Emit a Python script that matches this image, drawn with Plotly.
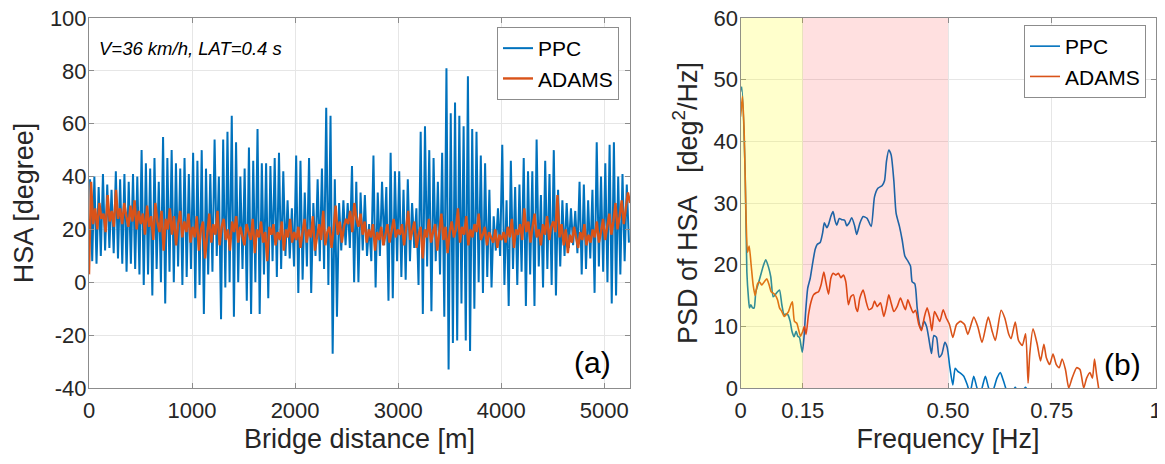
import numpy as np
import plotly.graph_objects as go

# ---------------- data: panel (a) ----------------
X_MAX = 5250  # bridge length shown [m]

# PPC hitch-steering angle: local maxima / minima of each oscillation (deg)
ppc_peaks = [
    39, 40, 36, 41, 37, 35, 42, 39, 41, 38, 41, 40,
    50, 45, 43, 47, 38, 55, 47, 50, 45, 43, 47, 41,
    49, 46, 50, 43, 41, 54, 40, 54, 57, 63, 53, 40,
    43, 51, 46, 58, 45, 45, 44, 47, 49, 42, 31, 28,
    48, 46, 34, 47, 30, 39, 43, 66, 63, 39, 30, 31,
    30, 44, 38, 34, 33, 22, 48, 34, 38, 36, 49, 42,
    42, 35, 39, 30, 28, 57, 59, 50, 47, 38, 49, 81,
    64, 68, 63, 59, 78, 58, 57, 48, 45, 35, 25, 28,
    52, 31, 46, 36, 37, 47, 42, 42, 54, 33, 46, 41,
    50, 35, 31, 30, 28, 27, 38, 37, 31, 35, 53, 40,
    45, 52, 53, 40, 41, 37,
]
ppc_troughs = [
    8, 7, 10, 12, 13, 11, 9, 7, 4, 7, 5, 3,
    -1, 3, -5, 5, 0, -8, 4, 0, 6, -1, 2, 5,
    -6, -1, -12, 3, 4, 10, -14, -2, 0, -13, 0, 5,
    -7, -12, 0, -12, 3, -6, 8, 2, 5, 10, 9, 6,
    -4, 1, 6, -4, 10, 8, 5, -1, -27, -13, 12, 14,
    13, 0, 0, 12, 10, 8, -2, 10, 14, -7, -6, 8,
    2, 1, 8, 13, -1, -12, 6, -11, 8, 3, -13, -33,
    -23, -22, -8, -22, -26, -10, 0, -4, 2, -2, 12, 10,
    -1, -9, 5, -1, 4, -9, 3, -9, 6, -2, 5, -1,
    -5, 6, 10, 13, 14, 11, 3, 5, 9, -4, 6, 4,
    0, -8, -5, 3, 8, 15,
]

# ADAMS hitch-steering angle samples (deg), evenly spaced along the bridge
adams = [
    3, 38, 22, 28, 20, 30, 24, 26, 19, 33, 23, 27, 21, 35, 24, 28, 22, 30, 25, 21, 29, 23, 31, 20, 27,
    22, 26, 18, 29, 21, 25, 16, 30, 23, 19, 27, 12, 24, 20, 28, 18, 25, 14, 22, 27, 17, 23, 19, 26, 15,
    21, 17, 25, 12, 20, 23, 9, 19, 26, 15, 22, 18, 27, 14, 21, 24, 16, 20, 12, 23, 19, 25, 15, 21, 18,
    14, 22, 19, 16, 24, 11, 20, 17, 23, 15, 19, 8, 21, 18, 22, 14, 19, 16, 23, 12, 20, 17, 24, 15, 19,
    16, 21, 13, 19, 24, 15, 20, 17, 25, 12, 18, 22, 16, 27, 14, 19, 21, 13, 20, 29, 18, 23, 15, 21, 24,
    22, 27, 19, 30, 24, 21, 26, 18, 23, 15, 20, 17, 22, 12, 19, 16, 21, 14, 18, 22, 15, 19, 24, 17, 20,
    18, 22, 14, 20, 27, 16, 19, 23, 13, 18, 21, 9, 20, 17, 24, 15, 19, 22, 12, 18, 26, 16, 21, 11, 19,
    23, 17, 20, 28, 15, 21, 18, 25, 14, 20, 17, 22, 19, 26, 16, 18, 21, 14, 19, 17, 15, 20, 13, 18, 16,
    19, 15, 21, 17, 24, 13, 20, 18, 22, 16, 28, 19, 23, 15, 21, 26, 17, 20, 14, 22, 18, 25, 16, 21, 23,
    19, 33, 17, 22, 14, 20, 11, 18, 15, 21, 17, 13, 19, 16, 22, 14, 18, 15, 20, 17, 23, 15, 19, 24, 16,
    21, 26, 18, 23, 30, 20, 25, 31, 22, 28, 34, 30,
]
dist_ticks = [0, 1000, 2000, 3000, 4000, 5000]
hsa_ticks = [-40, -20, 0, 20, 40, 60, 80, 100]

# ---------------- data: panel (b) ----------------
ppc_f = [0, 0.0032, 0.0112, 0.0153, 0.0193, 0.0217, 0.0249, 0.0289, 0.0329, 0.0369, 0.0418,
         0.0474, 0.0554, 0.061, 0.0675, 0.073, 0.0787, 0.0835, 0.0892, 0.094, 0.0996, 0.105,
         0.110, 0.114, 0.1197, 0.124, 0.129, 0.134, 0.138, 0.142, 0.146, 0.149, 0.153, 0.157,
         0.162, 0.168, 0.173, 0.180, 0.185, 0.192, 0.198, 0.202, 0.208, 0.212, 0.218, 0.223,
         0.228, 0.232, 0.238, 0.244, 0.251, 0.256, 0.262, 0.268, 0.275, 0.280, 0.2876, 0.2956,
         0.305, 0.3149, 0.3229, 0.331, 0.341, 0.347, 0.3518, 0.3574, 0.363, 0.3695, 0.375,
         0.383, 0.3896, 0.396, 0.4032, 0.4096, 0.4137, 0.4201, 0.4257, 0.4313, 0.4361, 0.4418,
         0.4482, 0.4546, 0.4602, 0.4659, 0.4723, 0.4787, 0.4851, 0.4924, 0.498, 0.5044, 0.5116,
         0.5173, 0.5237, 0.530, 0.538, 0.546, 0.553, 0.562, 0.570, 0.578, 0.590, 0.598, 0.606,
         0.618, 0.626, 0.634, 0.642, 0.652, 0.662, 0.672, 0.687, 0.695]
ppc_psd = [48.0, 48.8, 35, 18.8, 14.5, 13, 13.5, 13, 13, 15.6, 16.7,
           18, 19.9, 20.8, 19.6, 18, 14.8, 15.1, 15.6, 15.9, 13.5, 11.9,
           12, 11.9, 10.8, 9.2, 8.3, 9.2, 8.4, 8.2, 6.8, 5.8, 8.2, 12.4,
           16.2, 17.8, 19.9, 22.5, 23.3, 23.6, 25.2, 26.8, 26, 26.5, 27.9, 28.6,
           27.1, 26.4, 27.5, 27.3, 27.2, 26.3, 26.8, 27.6, 26.3, 24.9, 26.7, 27.8,
           27.5, 26.2, 31, 32.4, 32.8, 33.6, 36.8, 38.6, 37.8, 33.6, 28.3,
           26.2, 24, 21.4, 20.6, 19.8, 17.2, 16.9, 13, 10.3, 9.5, 10.8,
           10.0, 7.7, 5.6, 8.5, 8.2, 5, 5.5, 7.4, 6.6, 3.4, 0.5,
           3.2, 2.7, 2.4, 1.9, 0.6, -0.8, 1.9, 0, -0.8, 1.9, 0, -0.8,
           1.6, 2.5, 1.1, -0.5, -1, 0.1, -1, 0.1, -1]

adams_f = [0, 0.0016, 0.0048, 0.0088, 0.0128, 0.0169, 0.0209, 0.0257, 0.0305, 0.0353, 0.041,
           0.0458, 0.0514, 0.057, 0.0634, 0.069, 0.0739, 0.0787, 0.0835, 0.0892, 0.094, 0.0996,
           0.105, 0.110, 0.1157, 0.1213, 0.125, 0.130, 0.1357, 0.1398, 0.1446, 0.150, 0.154,
           0.158, 0.1638, 0.170, 0.176, 0.1815, 0.188, 0.194, 0.2008, 0.2056, 0.212, 0.2177,
           0.2233, 0.2297, 0.236, 0.2418, 0.248, 0.2538, 0.260, 0.2658, 0.2723, 0.278, 0.282,
           0.2876, 0.2956, 0.3028, 0.3092, 0.3173, 0.3229, 0.3293, 0.3373, 0.3454, 0.3518,
           0.3574, 0.363, 0.3695, 0.3775, 0.3855, 0.392, 0.3976, 0.4032, 0.4096, 0.416, 0.4217,
           0.4297, 0.4361, 0.4433, 0.4498, 0.4562, 0.461, 0.4675, 0.4739, 0.4803, 0.4884,
           0.4956, 0.5036, 0.5116, 0.5205, 0.530, 0.5398, 0.5478, 0.562, 0.572, 0.582, 0.597,
           0.606, 0.614, 0.628, 0.637, 0.646, 0.652, 0.662, 0.670, 0.679, 0.687, 0.693, 0.697,
           0.705, 0.715, 0.723, 0.731, 0.737, 0.745, 0.753, 0.761, 0.768, 0.775, 0.783, 0.791,
           0.799, 0.810, 0.818, 0.827, 0.834, 0.842, 0.848, 0.853, 0.858, 0.864]
adams_psd = [44, 45, 47.3, 41.7, 29.5, 22, 23, 19.9, 16.7, 15, 16.9,
             17.2, 16.7, 17.2, 17.7, 16.7, 15.6, 15.4, 15.1, 14.3, 13, 12.4,
             11.6, 11.9, 12.4, 13.5, 14, 10.8, 10.5, 9.5, 8.4, 9.2, 10,
             8.7, 11.9, 14, 15.1, 15.4, 15.6, 16.7, 18.8, 17.2, 15.2, 17.8,
             18.6, 18.3, 18.6, 17.9, 18.3, 17.2, 13.5, 14.8, 15.1, 13, 12.4,
             14.6, 15.9, 14, 12.7, 13, 14.1, 13.2, 13.8, 11.6, 13.3,
             15.1, 13.8, 12.4, 13.2, 14.6, 13.5, 12.7, 14.3, 13.2, 12.2, 12.6,
             10.3, 9.3, 11.6, 13, 11.4, 9.3, 12.4, 11.6, 10.8, 12.7,
             11.4, 10.3, 8.2, 10.3, 10.8, 10.3, 8.7, 11.5, 9.9, 7.4, 11.5,
             9.3, 7.7, 12.6, 11.3, 8.8, 8, 10.7, 7.7, 6.9, 8.8, 0.8, 5.5,
             9.6, 7.1, 4.4, 7.1, 4.9, 3.8, 5.5, 3.8, 3.3, 4.7, 3.0, 0,
             1.6, 3.3, 3.0, 0, 1.6, 2.5, 1.6, 4.7, 2.2, -0.5]
freq_ticks = [0, 0.15, 0.5, 0.75, 1]
freq_labels = ["0", "0.15", "0.50", "0.75", "1"]
psd_ticks = [0, 10, 20, 30, 40, 50, 60]

band_low = (0, 0.15)     # yellow band [Hz]
band_mid = (0.15, 0.50)  # pink band [Hz]

# ---------------- build series ----------------
n_cyc = len(ppc_peaks)
cyc = X_MAX / n_cyc
ppc_x, ppc_y = [], []
for k in range(n_cyc):
    ppc_x += [(k + 0.25) * cyc, (k + 0.75) * cyc]
    ppc_y += [ppc_peaks[k], ppc_troughs[k]]
adams_x = np.linspace(0, X_MAX, len(adams))

BLUE = "#0072BD"
ORANGE = "#D95319"
FONT = "Liberation Sans, Arial, Helvetica, sans-serif"
TXT = "#262626"
AX = "#8c8c8c"
GRID = "#e6e6e6"

fig = go.Figure()
fig.add_trace(go.Scatter(x=ppc_x, y=ppc_y, mode="lines", name="PPC",
                         line=dict(color=BLUE, width=2.0), xaxis="x", yaxis="y",
                         legend="legend"))
fig.add_trace(go.Scatter(x=adams_x, y=adams, mode="lines", name="ADAMS",
                         line=dict(color=ORANGE, width=2.4), xaxis="x", yaxis="y",
                         legend="legend"))
fig.add_trace(go.Scatter(x=ppc_f, y=ppc_psd, mode="lines", name="PPC",
                         line=dict(color=BLUE, width=1.6, shape="spline", smoothing=0.6),
                         xaxis="x2", yaxis="y2", legend="legend2"))
fig.add_trace(go.Scatter(x=adams_f, y=adams_psd, mode="lines", name="ADAMS",
                         line=dict(color=ORANGE, width=1.6, shape="spline", smoothing=0.6),
                         xaxis="x2", yaxis="y2", legend="legend2"))

# page body has an 8 px margin; lay the figure out in reference-image pixels
OFF = 8
W, H = 1165 - OFF, 464 - OFF
def px(v): return (v - OFF) / W
def py(v): return 1 - (v - OFF) / H

axis_common = dict(showline=True, linecolor=AX, linewidth=1, mirror="ticks",
                   ticks="inside", ticklen=5, tickcolor=AX, showgrid=True,
                   gridcolor=GRID, gridwidth=1, zeroline=False, automargin=False,
                   ticklabeloverflow="allow",
                   tickfont=dict(family=FONT, size=22, color=TXT))
TITLE_FONT = dict(size=27, family=FONT, color=TXT)

fig.update_layout(
    width=W, height=H, margin=dict(l=0, r=0, t=0, b=0, autoexpand=False),
    paper_bgcolor="white", plot_bgcolor="white",
    font=dict(family=FONT, color=TXT),
    xaxis=dict(domain=[px(89), px(630)], range=[0, X_MAX], tickvals=dist_ticks,
               ticktext=[str(v) for v in dist_ticks], anchor="y", ticklabelstandoff=3,
               title=dict(text="Bridge distance [m]", font=TITLE_FONT, standoff=6),
               **axis_common),
    yaxis=dict(domain=[py(388), py(18)], range=[-40, 100], tickvals=hsa_ticks,
               ticktext=[str(v) for v in hsa_ticks], anchor="x", ticklabelstandoff=-3,
               title=dict(text="HSA [degree]", font=TITLE_FONT, standoff=8),
               **axis_common),
    xaxis2=dict(domain=[px(740.5), px(1155.5)], range=[0, 1], tickvals=freq_ticks,
                ticktext=freq_labels, anchor="y2", ticklabelstandoff=3,
                title=dict(text="Frequency [Hz]", font=TITLE_FONT, standoff=6),
                **axis_common),
    yaxis2=dict(domain=[py(388), py(18)], range=[0, 60], tickvals=psd_ticks,
                ticktext=[str(v) for v in psd_ticks], anchor="x2", ticklabelstandoff=-3,
                title=dict(text="PSD of HSA\u00a0\u00a0\u00a0[deg<sup>2</sup>/Hz]",
                           font=TITLE_FONT, standoff=8),
                **axis_common),
    legend=dict(x=px(619), y=py(27), xanchor="right", yanchor="top",
                bgcolor="white", bordercolor=AX, borderwidth=1,
                font=dict(family=FONT, size=21, color="black"), tracegroupgap=0),
    legend2=dict(x=px(1146), y=py(25), xanchor="right", yanchor="top",
                 bgcolor="white", bordercolor=AX, borderwidth=1,
                 font=dict(family=FONT, size=21, color="black"), tracegroupgap=0),
    showlegend=True,
)

fig.add_shape(type="rect", xref="x2", yref="y2", x0=band_low[0], x1=band_low[1], y0=0, y1=60,
              fillcolor="rgba(255,255,0,0.2)", line=dict(width=0), layer="above")
fig.add_shape(type="rect", xref="x2", yref="y2", x0=band_mid[0], x1=band_mid[1], y0=0, y1=60,
              fillcolor="rgba(255,0,0,0.12)", line=dict(width=0), layer="above")

fig.add_annotation(x=px(97), y=py(48), xref="paper", yref="paper", xanchor="left", yanchor="middle",
                   text="<i>V=36 km/h, LAT=0.4 s</i>", showarrow=False,
                   font=dict(family=FONT, size=18.5, color="black"))
fig.add_annotation(x=px(592), y=py(362), xref="paper", yref="paper", xanchor="center", yanchor="middle",
                   text="(a)", showarrow=False, font=dict(family=FONT, size=30, color="black"))
fig.add_annotation(x=px(1122), y=py(364), xref="paper", yref="paper", xanchor="center", yanchor="middle",
                   text="(b)", showarrow=False, font=dict(family=FONT, size=30, color="black"))

fig.write_html("out.html")
